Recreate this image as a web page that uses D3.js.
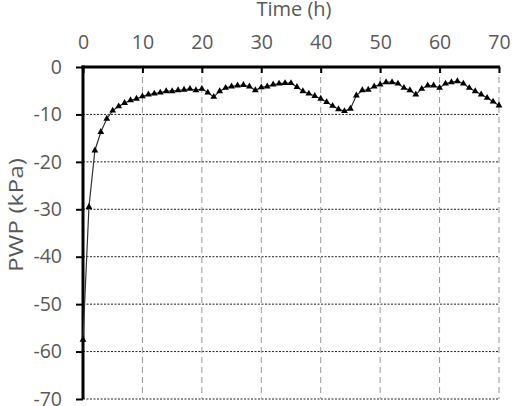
<!DOCTYPE html>
<html lang="en">
<head>
<meta charset="UTF-8">
<title>PWP over time</title>
<script src="https://cdn.jsdelivr.net/npm/d3@7"></script>
<style>
    body { margin: 0; background: #fff; }
    svg text { font-family: "Open Sans", "DejaVu Sans", sans-serif; fill: #595959; }
</style>
</head>
<body>
<svg width="512" height="406"></svg>
<script>
    // hours since start
    var hours = d3.range(0, 71);
    // pore water pressure (kPa), one value per hour
    var pwp = [
        -57.5, -29.5, -17.6, -13.7, -10.9, -9.2, -8.3, -7.6, -7.0, -6.7,
        -6.2, -5.8, -5.6, -5.4, -5.1, -5.1, -4.9, -4.8, -4.6, -4.9,
        -4.6, -5.4, -6.3, -5.1, -4.4, -4.1, -3.9, -3.8, -4.1, -4.9,
        -4.3, -4.1, -3.7, -3.5, -3.4, -3.4, -4.2, -5.1, -5.6, -6.1,
        -6.7, -7.4, -8.2, -8.9, -9.3, -8.8, -6.0, -4.9, -4.8, -4.1,
        -3.7, -3.2, -3.2, -3.5, -4.4, -4.9, -5.8, -4.6, -3.9, -3.9,
        -4.4, -3.5, -3.2, -3.0, -3.5, -4.4, -5.1, -5.8, -6.5, -7.3,
        -8.1
    ];
    var xTicks = [0, 10, 20, 30, 40, 50, 60, 70];
    var yTicks = [0, -10, -20, -30, -40, -50, -60, -70];

    var svg = d3.select("svg");
    var x = d3.scaleLinear().domain([0, 70]).range([83, 499]);
    var y = d3.scaleLinear().domain([0, -70]).range([67, 399]);
    var fmt = function (d) { return String(d); }; // plain hyphen, like the original

    // horizontal grid
    svg.append("g").selectAll("line")
        .data(yTicks.filter(function (d) { return d < 0; }))
        .enter().append("line")
        .attr("x1", x(0)).attr("x2", x(70))
        .attr("y1", function (d) { return y(d); })
        .attr("y2", function (d) { return y(d); })
        .attr("stroke", "#222").attr("stroke-width", 1)
        .attr("stroke-dasharray", "2,1.5");

    // vertical grid
    svg.append("g").selectAll("line")
        .data(xTicks.filter(function (d) { return d > 0; }))
        .enter().append("line")
        .attr("x1", function (d) { return x(d); })
        .attr("x2", function (d) { return x(d); })
        .attr("y1", y(0)).attr("y2", y(-70))
        .attr("stroke", "#999").attr("stroke-width", 1)
        .attr("stroke-dasharray", "6,4");

    // top axis
    var axisTop = d3.axisTop(x).tickValues(xTicks).tickFormat(fmt).tickSize(-6).tickPadding(18);
    var gx = svg.append("g").attr("transform", "translate(0," + y(0) + ")").call(axisTop);
    gx.select(".domain").remove();
    gx.selectAll(".tick line").attr("stroke", "#000").attr("stroke-width", 2);
    gx.selectAll(".tick text").style("font-size", "19.5px").attr("fill", "#595959");
    svg.append("line")
        .attr("x1", x(0) - 1.5).attr("x2", x(70) + 1)
        .attr("y1", y(0)).attr("y2", y(0))
        .attr("stroke", "#000").attr("stroke-width", 3);

    // left axis
    var axisLeft = d3.axisLeft(y).tickValues(yTicks).tickFormat(fmt).tickSize(7).tickPadding(14);
    var gy = svg.append("g").attr("transform", "translate(" + x(0) + ",0)").call(axisLeft);
    gy.select(".domain").remove();
    gy.selectAll(".tick line").attr("stroke", "#000").attr("stroke-width", 2);
    gy.selectAll(".tick text").style("font-size", "19.5px").attr("fill", "#595959");
    svg.append("line")
        .attr("x1", x(0)).attr("x2", x(0))
        .attr("y1", y(0) - 1.5).attr("y2", y(-70))
        .attr("stroke", "#000").attr("stroke-width", 3);

    // axis titles
    svg.append("text")
        .attr("x", 294).attr("y", 16)
        .attr("text-anchor", "middle")
        .style("font-size", "20px")
        .text("Time (h)");
    svg.append("text")
        .attr("transform", "translate(23,215) rotate(-90)")
        .attr("text-anchor", "middle")
        .style("font-size", "20px")
        .attr("textLength", 114)
        .attr("lengthAdjust", "spacingAndGlyphs")
        .text("PWP (kPa)");

    // series
    var line = d3.line()
        .x(function (d, i) { return x(hours[i]); })
        .y(function (d) { return y(d); });
    svg.append("path")
        .datum(pwp)
        .attr("d", line)
        .attr("fill", "none")
        .attr("stroke", "#333")
        .attr("stroke-width", 1.2);

    var tri = d3.symbol().type(d3.symbolTriangle).size(20);
    svg.append("g").selectAll("path")
        .data(pwp)
        .enter().append("path")
        .attr("d", tri)
        .attr("transform", function (d, i) {
            return "translate(" + x(hours[i]) + "," + y(d) + ")";
        })
        .attr("fill", "#000");
</script>
</body>
</html>
